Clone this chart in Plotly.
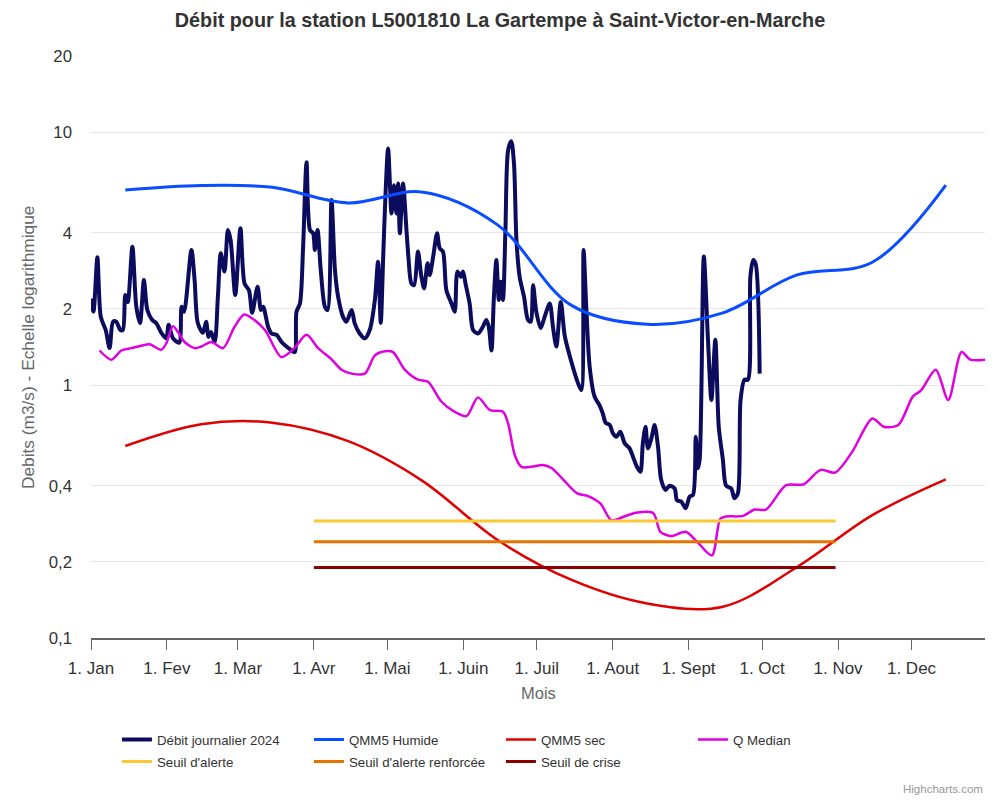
import math
import pandas as pd
import plotly.graph_objects as go

# ---------------- data ----------------
# day offsets from 1 Jan 2024 and daily discharge 2024 (m3/s)
debit_jours = [0, 1, 2.6, 4, 6, 7.6, 9, 10.3, 12, 13, 14, 15, 16.9, 18.5, 20, 21.6, 23, 25, 26.6, 28.7,
               30.7, 31.7, 33.5, 36, 37, 38, 41, 42.3, 43.6, 45.7, 47, 48, 49, 50.5, 51.8, 53, 54.5, 55.9,
               57, 58.9, 61, 62.7, 64.5, 65.8, 68, 69.4, 70.3, 72.3, 73.7, 75.8, 77.8, 79.8, 81.9, 83.2,
               83.9, 85.3, 86.6, 88, 89.4, 90.7, 91.4, 92.5, 93.8, 95.5, 96.6, 98.2, 99.6, 100.9, 102.9,
               104.3, 106.4, 107.7, 109.7, 111.8, 113.8, 115.9, 117.2, 118.3, 119.3, 120.2, 121.3, 122.7,
               123.7, 124.7, 125.4, 126.1, 127.4, 128.8, 129.6, 130.8, 131.9, 133.5, 134.9, 136, 137.4,
               138.3, 139.7, 141.3, 142.4, 143.7, 145.1, 147.2, 148.5, 149.6, 151, 151.9, 152.9, 154.6,
               156, 158, 160, 161.4, 162.4, 163.5, 164.5, 165.5, 166.5, 167.3, 168.2, 169.2, 170.3, 171.6,
               172.7, 173.7, 175, 176.8, 178.4, 179.5, 180.5, 181.8, 183.6, 185.2, 187.3, 188.6, 190,
               191.8, 193.5, 196.5, 198.8, 200.2, 201.1, 202.2, 203.6, 205.6, 207.7, 209, 210.1, 211.8,
               213.1, 214.5, 216.1, 217.9, 219.9, 221.3, 222.9, 224.3, 225.3, 226.4, 227.4, 228.8, 230.1,
               231.5, 232.8, 234.6, 236.2, 238.3, 239.2, 241, 242.8, 244.4, 245.8, 246.9, 247.8, 248.5,
               250.2, 251.9, 253.3, 254.9, 256.3, 258, 259.3, 261.4, 262.7, 264.1, 265.2, 266.8, 268.2,
               269.2, 270.3, 271.3, 273]
debit_valeurs = [2.2, 1.95, 3.2, 1.86, 1.65, 1.40, 1.78, 1.78, 1.65, 1.65, 2.27, 2.13, 3.52, 2.04, 1.76, 2.60,
                 1.98, 1.81, 1.76, 1.61, 1.53, 1.73, 1.53, 1.47, 2.04, 1.95, 3.42, 2.60, 1.76, 1.61, 1.78,
                 1.55, 1.62, 1.48, 2.23, 3.32, 2.81, 4.10, 3.74, 2.27, 4.17, 2.52, 2.37, 1.93, 2.45, 1.98,
                 2.04, 1.70, 1.60, 1.58, 1.48, 1.42, 1.37, 1.35, 1.95, 2.10, 3.52, 7.6, 4.10, 3.98, 3.42,
                 4.10, 2.85, 2.04, 1.98, 5.39, 2.85, 2.23, 1.86, 1.78, 1.98, 1.75, 1.60, 1.53, 1.65, 2.17,
                 3.07, 1.76, 3.22, 5.55, 8.62, 4.77, 6.17, 4.77, 6.26, 3.98, 6.26, 4.10, 3.2, 2.52, 2.48,
                 3.37, 2.68, 2.41, 3.03, 2.72, 3.22, 3.98, 3.47, 3.37, 2.37, 2.10, 1.95, 2.81, 2.68, 2.81,
                 2.52, 2.10, 1.65, 1.60, 1.70, 1.81, 1.70, 1.37, 2.23, 3.12, 2.17, 2.56, 2.17, 4.10, 8.49,
                 9.2, 7.5, 3.74, 2.68, 2.23, 1.81, 1.78, 2.48, 1.95, 1.68, 1.86, 2.10, 1.70, 1.42, 2.13,
                 1.55, 1.20, 1.02, 0.955, 3.42, 2.04, 1.18, 0.90, 0.83, 0.77, 0.71, 0.695, 0.644, 0.625,
                 0.654, 0.588, 0.562, 0.52, 0.475, 0.454, 0.588, 0.684, 0.562, 0.615, 0.695, 0.57, 0.421,
                 0.385, 0.40, 0.39, 0.351, 0.346, 0.326, 0.362, 0.368, 0.625, 0.469, 0.506, 3.22, 1.51,
                 0.872, 1.51, 0.684, 0.506, 0.40, 0.39, 0.357, 0.373, 0.872, 1.05, 1.05, 2.68, 3.12, 3.03,
                 1.11]

# monthly references (15th of each month)
mois_15 = ["2024-01-15", "2024-02-15", "2024-03-15", "2024-04-15", "2024-05-15", "2024-06-15",
           "2024-07-15", "2024-08-15", "2024-09-15", "2024-10-15", "2024-11-15", "2024-12-15"]
qmm5_humide = [5.9, 6.15, 6.05, 5.25, 5.8, 4.3, 2.07, 1.74, 1.93, 2.72, 3.06, 6.17]
qmm5_sec = [0.574, 0.70, 0.71, 0.60, 0.42, 0.244, 0.17, 0.137, 0.133, 0.19, 0.306, 0.424]

# median discharge
median_jours = [3.5, 8.3, 12.4, 16.4, 20.5, 23.9, 28.7, 30.7, 33.5, 35.5, 38.2, 42.3, 45, 49.1, 53.9, 58.6,
                62.5, 66, 71, 77.8, 83, 88, 92.7, 98, 102.3, 106.4, 111.8, 115.9, 120, 123.3, 128.1,
                133.5, 137.6, 143.1, 148.5, 153.3, 158, 162.8, 168.2, 170.3, 173, 175.7, 179.8, 184.5,
                188, 193, 198.5, 203, 208, 212.5, 218, 222.5, 229.5, 232.5, 237, 242.8, 247.5, 253.5,
                256.9, 259.2, 266.2, 270.9, 275.6, 283.8, 290.9, 297.9, 303.8, 310.8, 319, 323.7, 329.6,
                335.5, 339, 344.9, 350, 355.4, 359, 365]
median_valeurs = [1.37, 1.26, 1.37, 1.40, 1.43, 1.45, 1.38, 1.46, 1.71, 1.62, 1.48, 1.40, 1.42, 1.48, 1.40,
                  1.70, 1.90, 1.83, 1.65, 1.29, 1.40, 1.58, 1.40, 1.27, 1.15, 1.11, 1.11, 1.31, 1.36, 1.35,
                  1.15, 1.05, 1.03, 0.859, 0.784, 0.754, 0.894, 0.797, 0.784, 0.705, 0.529, 0.475, 0.475,
                  0.483, 0.47, 0.421, 0.373, 0.364, 0.34, 0.292, 0.303, 0.313, 0.312, 0.263, 0.253, 0.263,
                  0.24, 0.212, 0.296, 0.302, 0.304, 0.322, 0.322, 0.402, 0.405, 0.462, 0.451, 0.545, 0.738,
                  0.684, 0.695, 0.90, 0.955, 1.15, 0.872, 1.35, 1.26, 1.26]

# thresholds
seuil_periode = ["2024-04-01", "2024-10-31"]
seuil_alerte = 0.29
seuil_alerte_renforcee = 0.24
seuil_crise = 0.19

mois_ticks = ["2024-01-01", "2024-02-01", "2024-03-01", "2024-04-01", "2024-05-01", "2024-06-01",
              "2024-07-01", "2024-08-01", "2024-09-01", "2024-10-01", "2024-11-01", "2024-12-01"]
mois_labels = ["1. Jan", "1. Fev", "1. Mar", "1. Avr", "1. Mai", "1. Juin", "1. Juil", "1. Aout",
               "1. Sept", "1. Oct", "1. Nov", "1. Dec"]
y_ticks = [0.1, 0.2, 0.4, 1, 2, 4, 10, 20]
y_labels = ["0,1", "0,2", "0,4", "1", "2", "4", "10", "20"]

# ---------------- figure ----------------
base = pd.Timestamp("2024-01-01")


def to_dates(days):
    return [base + pd.Timedelta(days=d) for d in days]


FONT = "Liberation Sans, Arial, sans-serif"
fig = go.Figure()

fig.add_trace(go.Scatter(x=to_dates(debit_jours), y=debit_valeurs, name="Débit journalier 2024",
                         mode="lines", line=dict(color="#0c0c5e", width=4, shape="spline", smoothing=0.8),
                         legend="legend"))
fig.add_trace(go.Scatter(x=mois_15, y=qmm5_humide, name="QMM5 Humide", mode="lines",
                         line=dict(color="#0a4cff", width=3, shape="spline"), legend="legend"))
fig.add_trace(go.Scatter(x=mois_15, y=qmm5_sec, name="QMM5 sec", mode="lines",
                         line=dict(color="#e00000", width=2.5, shape="spline"), legend="legend"))
fig.add_trace(go.Scatter(x=to_dates(median_jours), y=median_valeurs, name="Q Median", mode="lines",
                         line=dict(color="#e000e0", width=2.5, shape="spline", smoothing=0.8),
                         legend="legend"))
fig.add_trace(go.Scatter(x=seuil_periode, y=[seuil_alerte] * 2, name="Seuil d'alerte", mode="lines",
                         line=dict(color="#fbc833", width=3), legend="legend2"))
fig.add_trace(go.Scatter(x=seuil_periode, y=[seuil_alerte_renforcee] * 2, name="Seuil d'alerte renforcée",
                         mode="lines", line=dict(color="#e67300", width=3), legend="legend2"))
fig.add_trace(go.Scatter(x=seuil_periode, y=[seuil_crise] * 2, name="Seuil de crise", mode="lines",
                         line=dict(color="#8b0000", width=3), legend="legend2"))

legend_common = dict(orientation="h", xanchor="left", yanchor="top", entrywidth=147,
                     entrywidthmode="pixels", font=dict(family=FONT, size=13.3, color="#333333"),
                     bgcolor="rgba(0,0,0,0)", traceorder="normal")

fig.update_layout(
    width=1000, height=800, autosize=False,
    margin=dict(l=91, r=15, t=56, b=162),
    paper_bgcolor="white", plot_bgcolor="white",
    font=dict(family=FONT, color="#333333"),
    title=dict(text="<b>Débit pour la station L5001810 La Gartempe à Saint-Victor-en-Marche</b>",
               x=0.5, xref="container", xanchor="center", y=1 - 20.5 / 800, yref="container",
               yanchor="middle", font=dict(family=FONT, size=19.8, color="#333333")),
    xaxis=dict(type="date", range=["2024-01-01", "2024-12-31"], tickvals=mois_ticks, ticktext=mois_labels,
               ticks="outside", ticklen=10, tickwidth=1, tickcolor="#666666", showline=True,
               linecolor="#666666", linewidth=2, showgrid=False, zeroline=False,
               tickfont=dict(family=FONT, size=17, color="#333333"), ticklabelstandoff=4),
    yaxis=dict(type="log", range=[-1, math.log10(20)], tickvals=y_ticks, ticktext=y_labels,
               showgrid=True, gridcolor="#e6e6e6", gridwidth=1, zeroline=False, showline=False,
               ticks="", tickfont=dict(family=FONT, size=16.8, color="#333333"), ticklabelstandoff=18),
    legend=dict(x=0.029, y=-0.1485, **legend_common),
    legend2=dict(x=0.029, y=-0.1863, **legend_common),
    annotations=[
        dict(text="Debits (m3/s) - Echelle logarithmique", textangle=-90, x=-0.0705, y=0.5,
             xref="paper", yref="paper", showarrow=False, xanchor="center", yanchor="middle",
             font=dict(family=FONT, size=17.3, color="#666666")),
        dict(text="Mois", x=0.5, y=-0.0945, xref="paper", yref="paper", showarrow=False,
             xanchor="center", yanchor="middle", font=dict(family=FONT, size=16.5, color="#666666")),
        dict(text="Highcharts.com", x=1.0, y=-0.259, xref="paper", yref="paper", showarrow=False,
             xanchor="right", yanchor="middle", font=dict(family=FONT, size=11.5, color="#999999")),
    ],
)

fig.write_html("out.html")
